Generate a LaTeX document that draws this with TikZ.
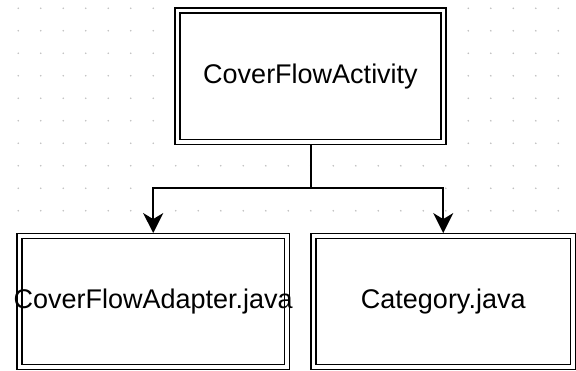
\documentclass[tikz,border=0pt]{standalone}
\usepackage{fontspec}
\setmainfont{Liberation Sans}
\usetikzlibrary{arrows.meta}

\tikzset{
  classbox/.style={draw, line width=1.3pt, double, double distance=3.6pt,
    fill=white, outer sep=2.9pt, inner sep=0pt,
    font=\fontsize{27}{32}\selectfont},
  link/.style={line width=2pt, -{Stealth[length=20pt,width=20pt,inset=6pt]}},
  griddot/.style={fill=black!25}
}

\begin{document}
\begin{tikzpicture}[x=1pt,y=-1pt]
  \useasboundingbox (0,0) rectangle (576,371);
  % grid of the drawing canvas
  \foreach \i in {0,...,24}
    \foreach \j in {0,...,9}
      \fill[griddot] ({18.3+22.5*\i},{8.3+22.5*\j}) circle (0.9pt);

  \node[classbox, minimum width=266pt, minimum height=131.7pt] (activity) at (310.5,76.35) {CoverFlowActivity};
  \node[classbox, minimum width=267.6pt, minimum height=131pt] (adapter) at (153.2,301.5) {\makebox[0pt]{CoverFlowAdapter.java}};
  \node[classbox, minimum width=259.5pt, minimum height=131pt] (category) at (443.25,301.5) {Category.java};

  \coordinate (fork) at (310.5,188.3);
  \draw[link] (activity.south) -- (fork) -| (adapter.north);
  \draw[link] (fork) -| (category.north);
\end{tikzpicture}
\end{document}
